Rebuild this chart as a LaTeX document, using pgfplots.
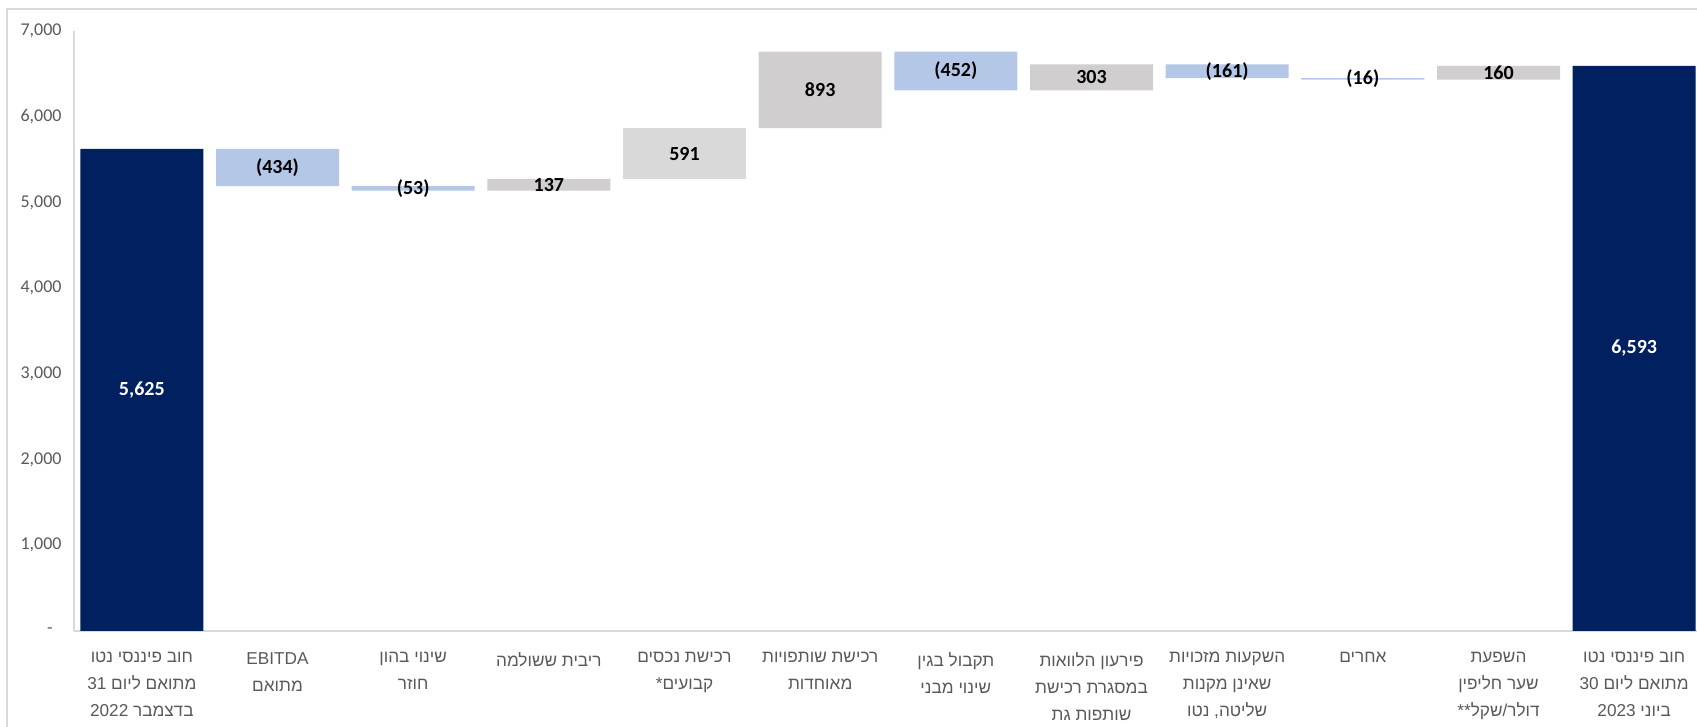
\documentclass[border=0pt]{standalone}
\usepackage{pgfplots}
\pgfplotsset{compat=1.18}
\usepackage{pgfplotstable}
\usepackage{fontspec}
\setmainfont{Carlito}
\newfontfamily\hebfont[Script=Hebrew]{Liberation Sans}
\TeXXeTstate=1

\definecolor{navy}{HTML}{002060}
\definecolor{lblue}{HTML}{B4C7E7}
\definecolor{midgray}{HTML}{D0CECE}
\definecolor{lgray}{HTML}{D9D9D9}
\definecolor{axisgray}{HTML}{D9D9D9}
\definecolor{textgray}{HTML}{595959}

% floating bars: invisible base + visible segment
\pgfplotstableread{
x  base total down up  uplight
0  0    5625  0    0   0
1  5191 0     434  0   0
2  5138 0     53   0   0
3  5138 0     0    137 0
4  5275 0     0    0   591
5  5866 0     0    893 0
6  6307 0     452  0   0
7  6307 0     0    303 0
8  6449 0     161  0   0
9  6433 0     16   0   0
10 6433 0     0    160 0
11 0    6593  0    0   0
}\bars

% value labels, placed at the middle of each bar
\pgfplotstableread{
x  lo   hi   label
1  5191 5625 (434)
2  5138 5191 (53)
3  5138 5275 137
4  5275 5866 591
5  5866 6759 893
6  6307 6759 (452)
7  6307 6610 303
8  6449 6610 (161)
9  6433 6449 (16)
10 6433 6593 160
}\deltalabels
\pgfplotstableread{
x  lo hi   label
0  0  5625 5,625
11 0  6593 6,593
}\totallabels

\pgfplotsset{
  wf/.style={
    scale only axis, width=814pt, height=300pt,
    at={(37pt,48pt)}, anchor=south west,
    xmin=-0.5, xmax=11.5, ymin=0, ymax=7000,
  },
}

\begin{document}
\begin{tikzpicture}
\useasboundingbox (0,0) rectangle (848.5pt,363.5pt);
\draw[axisgray, line width=0.8pt] (3.5pt,-2pt) -- (3.5pt,359pt) -- (860pt,359pt);

\begin{axis}[wf,
  ybar stacked, bar width=61.5pt,
  axis x line*=bottom, axis y line*=left,
  axis line style={draw=axisgray, line width=0.8pt},
  major tick length=0pt,
  ytick={1000,2000,3000,4000,5000,6000,7000},
  yticklabels={{1,000},{2,000},{3,000},{4,000},{5,000},{6,000},{7,000}},
  yticklabel style={anchor=east, inner sep=0pt, xshift=-6pt,
    font=\fontsize{9}{11}\selectfont, text=textgray},
  extra y ticks={0},
  extra y tick labels={-},
  extra y tick style={yticklabel style={xshift=-4.5pt}},
  xtick={0,...,11},
  xticklabels={
    {\beginR חוב פיננסי נטו\endR\\\beginR מתואם ליום 31\endR\\\beginR בדצמבר 2022\endR},
    {EBITDA\\\beginR מתואם\endR},
    {\beginR שינוי בהון\endR\\\beginR חוזר\endR},
    {\beginR ריבית ששולמה\endR},
    {\beginR רכישת נכסים\endR\\\beginR קבועים*\endR},
    {\beginR רכישת שותפויות\endR\\\beginR מאוחדות\endR},
    {\beginR תקבול בגין\endR\\\beginR שינוי מבני\endR},
    {\beginR פירעון הלוואות\endR\\\beginR במסגרת רכישת\endR\\\beginR שותפות גת\endR},
    {\beginR השקעות מזכויות\endR\\\beginR שאינן מקנות\endR\\\beginR שליטה, נטו\endR},
    {\beginR אחרים\endR},
    {\beginR השפעת\endR\\\beginR שער חליפין\endR\\\beginR דולר/שקל**\endR},
    {\beginR חוב פיננסי נטו\endR\\\beginR מתואם ליום 30\endR\\\beginR ביוני 2023\endR}
  },
  xticklabel style={anchor=north, align=center, inner sep=0pt, yshift=-10.5pt,
    font=\hebfont\fontsize{8.6}{13.5}\selectfont, text=textgray},
]
\addplot[draw=none, fill=none] table[x=x, y=base] {\bars};
\addplot[draw=none, fill=navy] table[x=x, y=total] {\bars};
\addplot[draw=none, fill=lblue] table[x=x, y=down] {\bars};
\addplot[draw=none, fill=midgray] table[x=x, y=up] {\bars};
\addplot[draw=none, fill=lgray] table[x=x, y=uplight] {\bars};
\end{axis}

\begin{axis}[wf, hide axis, clip=false]
\addplot[draw=none, mark=none, nodes near coords, point meta=explicit symbolic,
  every node near coord/.append style={anchor=center, inner sep=0pt,
    font=\bfseries\fontsize{10}{12}\selectfont, text=black}]
  table[x=x, y expr=(\thisrow{lo}+\thisrow{hi})/2, meta=label] {\deltalabels};
\addplot[draw=none, mark=none, nodes near coords, point meta=explicit symbolic,
  every node near coord/.append style={anchor=center, inner sep=0pt,
    font=\bfseries\fontsize{10}{12}\selectfont, text=white}]
  table[x=x, y expr=(\thisrow{lo}+\thisrow{hi})/2, meta=label] {\totallabels};
\end{axis}
\end{tikzpicture}
\end{document}
